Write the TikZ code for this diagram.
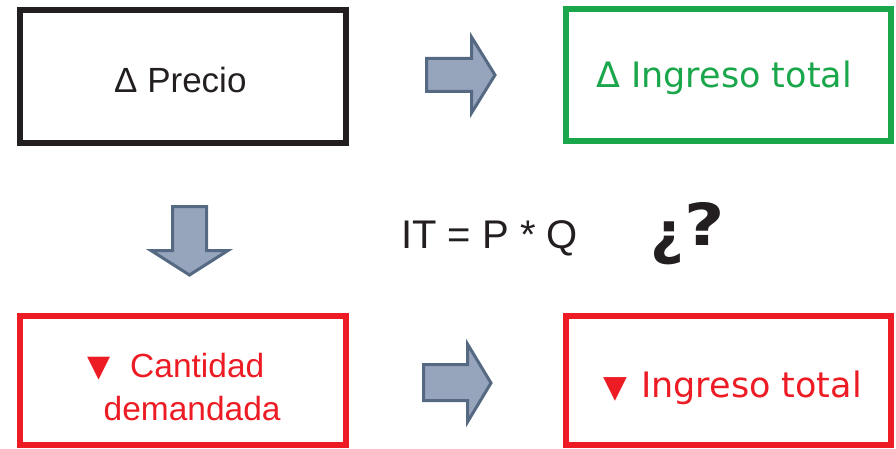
\documentclass[tikz,border=0pt]{standalone}
\usepackage{fontspec}
\setmainfont{Liberation Sans}
\newfontfamily\dejavu{DejaVu Sans}
\definecolor{boxgreen}{HTML}{1AA64A}
\definecolor{boxred}{HTML}{ED1C24}
\definecolor{boxblack}{HTML}{231F20}
\definecolor{arrfill}{HTML}{97A5BC}
\definecolor{arredge}{HTML}{556983}
\begin{document}
\begin{tikzpicture}[x=1pt,y=-1pt,
  box/.style={draw, line width=5.5pt, inner sep=0, outer sep=0},
  blockarrow/.style={fill=arrfill, draw=arredge, line width=3pt, line join=miter},
  lbl/.style={inner sep=0, anchor=base west}]
\useasboundingbox (0,0) rectangle (896,449);
% boxes
\node[box, draw=boxblack, minimum width=326, minimum height=133] (bprecio) at (183,76.5) {};
\node[box, draw=boxgreen, minimum width=325, minimum height=132] (bit) at (728.5,75) {};
\node[box, draw=boxred, minimum width=326, minimum height=129] (bq) at (183,380.5) {};
\node[box, draw=boxred, minimum width=325, minimum height=129] (bit2) at (728.5,380.5) {};
% texts
\node[lbl, text=boxblack, font=\fontsize{35}{42}\selectfont] (tprecio) at (114,93) {Δ Precio};
\node[lbl, text=boxgreen, font=\dejavu\fontsize{35}{42}\selectfont] (tit) at (596,88) {Δ Ingreso total};
\node[lbl, text=boxblack, font=\fontsize{40}{48}\selectfont] (form) at (401,248) {IT = P * Q};
\node[lbl, text=boxblack, font=\dejavu\bfseries\fontsize{58}{70}\selectfont] (quest) at (650,245) {\raisebox{-8pt}{¿}\hspace{1pt}\scalebox{1.2}[1]{?}};
\node[lbl, text=boxred, font=\dejavu\fontsize{30}{36}\selectfont] (tri1) at (87,376) {▼};
\node[lbl, text=boxred, font=\fontsize{33.5}{40}\selectfont] (tq1) at (130,377) {Cantidad};
\node[lbl, text=boxred, font=\fontsize{33.5}{40}\selectfont] (tq2) at (103.5,420) {demandada};
\node[lbl, text=boxred, font=\dejavu\fontsize{35}{42}\selectfont] (tit2) at (603,397) {{\fontsize{31}{36}\selectfont ▼}\hspace{3pt} Ingreso total};
% block arrows
\draw[blockarrow] (426.5,58.5) -- (471.5,58.5) -- (471.5,37) -- (495,75) -- (471.5,113) -- (471.5,91.5) -- (426.5,91.5) -- cycle;
\draw[blockarrow] (423.5,364.5) -- (467.5,364.5) -- (467.5,344) -- (491,383) -- (467.5,422) -- (467.5,400.5) -- (423.5,400.5) -- cycle;
\draw[blockarrow] (172.5,206.5) -- (206.5,206.5) -- (206.5,250.5) -- (228,250.5) -- (189.5,275) -- (151,250.5) -- (172.5,250.5) -- cycle;
\end{tikzpicture}
\end{document}
